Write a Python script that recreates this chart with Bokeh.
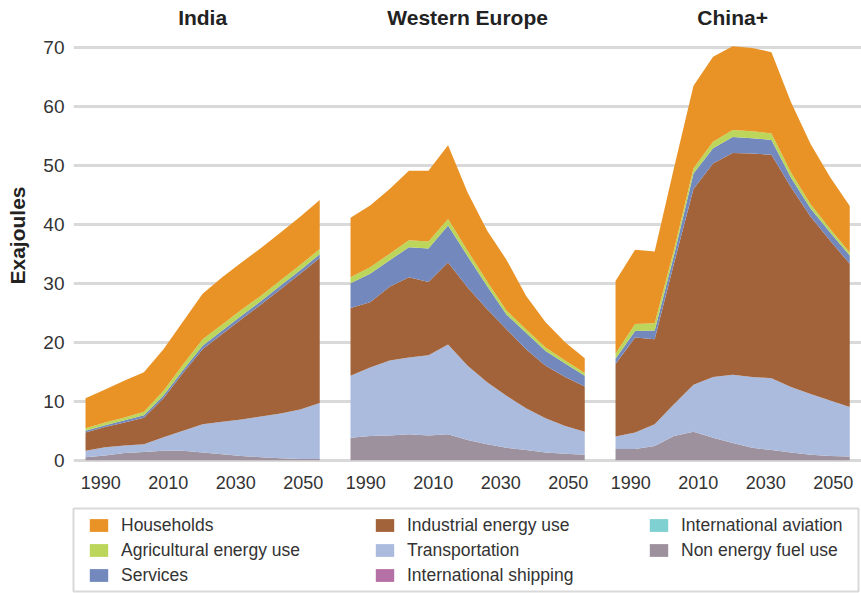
from bokeh.plotting import figure
from bokeh.layouts import column
from bokeh.models import ColumnDataSource, FixedTicker, Legend, LegendItem, Range1d
from bokeh.core.properties import value
from bokeh.embed import file_html
from bokeh.resources import INLINE

# ---------------- data ----------------
years = [1985.5, 1991.3, 1997.1, 2002.8, 2008.6, 2014.4, 2020.2,
         2026.0, 2031.7, 2037.5, 2043.3, 2049.1, 2054.9]
tick_years = [1990, 2010, 2030, 2050]
regions = ["India", "Western Europe", "China+"]

# stack order, bottom to top
categories = ["Non energy fuel use", "International aviation", "International shipping",
              "Transportation", "Industrial energy use", "Services",
              "Agricultural energy use", "Households"]
cat_colors = ["#9E919E", "#7FD0D0", "#B571A6", "#ABBBDD", "#A3633A",
              "#7389BD", "#BBD65B", "#E99326"]
legend_columns = [["Households", "Agricultural energy use", "Services"],
                  ["Industrial energy use", "Transportation", "International shipping"],
                  ["International aviation", "Non energy fuel use"]]

india_nonenergy = [0.5, 0.8, 1.2, 1.4, 1.6, 1.6, 1.3, 1.0, 0.7, 0.5, 0.3, 0.2, 0.2]
india_aviation = [0.0] * 13
india_shipping = [0.0] * 13
india_transport = [1.1, 1.4, 1.3, 1.3, 2.3, 3.4, 4.8, 5.5, 6.2, 6.9, 7.6, 8.4, 9.5]
india_industrial = [3.1, 3.4, 3.9, 4.5, 6.6, 9.8, 12.7, 14.9, 17.0, 19.0, 21.1, 23.0, 24.6]
india_services = [0.3, 0.3, 0.35, 0.4, 0.45, 0.5, 0.6, 0.6, 0.6, 0.6, 0.6, 0.6, 0.6]
india_agri = [0.4, 0.5, 0.5, 0.6, 0.8, 0.9, 1.1, 1.0, 1.0, 0.9, 0.9, 0.9, 0.9]
india_households = [5.1, 5.6, 6.25, 6.7, 7.05, 7.3, 7.7, 8.0, 8.0, 8.1, 8.1, 8.2, 8.3]

weu_nonenergy = [3.8, 4.1, 4.2, 4.4, 4.2, 4.4, 3.4, 2.7, 2.1, 1.7, 1.3, 1.1, 0.9]
weu_aviation = [0.0] * 13
weu_shipping = [0.0] * 13
weu_transport = [10.5, 11.6, 12.7, 13.0, 13.6, 15.2, 12.6, 10.5, 8.8, 7.1, 5.8, 4.7, 3.9]
weu_industrial = [11.5, 11.1, 12.5, 13.6, 12.4, 13.9, 13.3, 12.4, 11.3, 10.0, 8.9, 8.3, 7.7]
weu_services = [4.2, 4.8, 4.5, 5.1, 5.7, 6.3, 5.3, 3.9, 2.5, 2.8, 2.5, 2.3, 1.8]
weu_agri = [1.0, 1.1, 1.1, 1.2, 1.2, 1.1, 0.9, 0.8, 0.7, 0.6, 0.6, 0.5, 0.5]
weu_households = [10.1, 10.5, 11.0, 11.8, 12.0, 12.5, 9.9, 8.6, 8.6, 5.7, 4.3, 3.1, 2.5]

china_nonenergy = [1.9, 1.9, 2.4, 4.1, 4.8, 3.8, 2.9, 2.1, 1.7, 1.3, 0.9, 0.7, 0.6]
china_aviation = [0.0] * 13
china_shipping = [0.0] * 13
china_transport = [2.1, 2.8, 3.7, 5.4, 8.0, 10.3, 11.6, 12.0, 12.2, 11.1, 10.3, 9.4, 8.4]
china_industrial = [12.3, 16.1, 14.4, 23.8, 33.2, 36.2, 37.6, 37.9, 37.9, 33.9, 30.1, 27.1, 24.3]
china_services = [0.9, 1.1, 1.5, 1.4, 2.6, 2.6, 2.7, 2.6, 2.5, 1.6, 1.4, 1.4, 1.4]
china_agri = [0.9, 1.2, 1.2, 0.9, 0.9, 1.1, 1.2, 1.2, 1.1, 0.9, 0.7, 0.6, 0.5]
china_households = [12.3, 12.6, 12.2, 13.9, 14.0, 14.4, 14.2, 14.1, 13.8, 11.9, 10.2, 8.8, 7.9]

region_series = {
    "India": [india_nonenergy, india_aviation, india_shipping, india_transport,
              india_industrial, india_services, india_agri, india_households],
    "Western Europe": [weu_nonenergy, weu_aviation, weu_shipping, weu_transport,
                       weu_industrial, weu_services, weu_agri, weu_households],
    "China+": [china_nonenergy, china_aviation, china_shipping, china_transport,
               china_industrial, china_services, china_agri, china_households],
}

# ---------------- layout constants ----------------
PANEL_SHIFT = 78.52   # horizontal distance between panels, in axis units
FONT = "Liberation Sans"
TEXT = "#333333"

p = figure(frame_width=788, frame_height=454,
           x_range=Range1d(1981.94, 2215.42), y_range=Range1d(-0.4, 76.6),
           output_backend="svg", toolbar_location=None,
           min_border_left=73, min_border_right=0, min_border_top=8, min_border_bottom=39,
           outline_line_color=None, background_fill_color="white")

keys = ["c%d" % i for i in range(len(categories))]
for r_i, region in enumerate(regions):
    data = {"x": [y + r_i * PANEL_SHIFT for y in years]}
    for k, s in zip(keys, region_series[region]):
        data[k] = s
    src = ColumnDataSource(data)
    p.varea_stack(stackers=keys, x="x", color=cat_colors, source=src)
    # panel title
    p.text(x=[years[6] + r_i * PANEL_SHIFT], y=[75.06], text=[region],
           text_align="center", text_baseline="alphabetic",
           text_font=value(FONT), text_font_size="21px", text_font_style="bold",
           text_color="#222222")

# axes
ticks = []
overrides = {}
for r_i in range(len(regions)):
    for t in tick_years:
        pos = t + r_i * PANEL_SHIFT
        ticks.append(pos)
        overrides[pos] = str(t)
p.xaxis.ticker = FixedTicker(ticks=ticks)
p.xaxis.major_label_overrides = overrides
p.yaxis.ticker = FixedTicker(ticks=[0, 10, 20, 30, 40, 50, 60, 70])
for ax in (p.xaxis, p.yaxis):
    ax.axis_line_color = None
    ax.major_tick_line_color = None
    ax.minor_tick_line_color = None
    ax.major_tick_out = 0
    ax.major_tick_in = 0
    ax.minor_tick_out = 0
    ax.minor_tick_in = 0
    ax.major_label_text_font = FONT
    ax.major_label_text_color = TEXT
p.xaxis.major_label_text_font_size = "18px"
p.yaxis.major_label_text_font_size = "19px"
p.xaxis.major_label_standoff = 13
p.yaxis.major_label_standoff = 9
p.yaxis.axis_label = "Exajoules"
p.yaxis.axis_label_text_font = FONT
p.yaxis.axis_label_text_font_size = "21px"
p.yaxis.axis_label_text_font_style = "bold"
p.yaxis.axis_label_text_color = "#222222"
p.yaxis.axis_label_standoff = 11

p.xgrid.grid_line_color = None
p.ygrid.ticker = FixedTicker(ticks=[0, 10, 20, 30, 40, 50, 60, 70])
p.ygrid.grid_line_color = "#d9d9d9"
p.ygrid.grid_line_width = 3

# ---------------- legend panel ----------------
lf = figure(frame_width=785, frame_height=83, x_axis_type=None, y_axis_type=None,
            x_range=Range1d(0, 1), y_range=Range1d(0, 1),
            output_backend="svg", toolbar_location=None,
            min_border_left=73, min_border_right=3, min_border_top=7, min_border_bottom=2,
            outline_line_color="#d9d9d9", outline_line_width=2,
            background_fill_color="white")
lf.xgrid.visible = False
lf.ygrid.visible = False
# zero-height proxy areas: they only carry the colours for the legend swatches
swatch = {}
for cat, col in zip(categories, cat_colors):
    swatch[cat] = lf.varea(x=[0, 1], y1=[0, 0], y2=[0, 0], color=col)

col_x = [14, 300, 574]
col_y = [5.5, 5.5, 30.5]
for labels, cx, cy in zip(legend_columns, col_x, col_y):
    leg = Legend(items=[LegendItem(label=c, renderers=[swatch[c]]) for c in labels],
                 location=(cx, cy), orientation="vertical",
                 label_text_font=FONT, label_text_font_size="17.5px", label_text_color=TEXT,
                 glyph_width=23, glyph_height=16, label_standoff=11, label_height=21,
                 spacing=4, padding=0, margin=0,
                 border_line_color=None, background_fill_alpha=0.0,
                 click_policy="none")
    lf.add_layout(leg)

layout = column(p, lf, spacing=0)
open("out.html", "w").write(file_html(layout, INLINE))
